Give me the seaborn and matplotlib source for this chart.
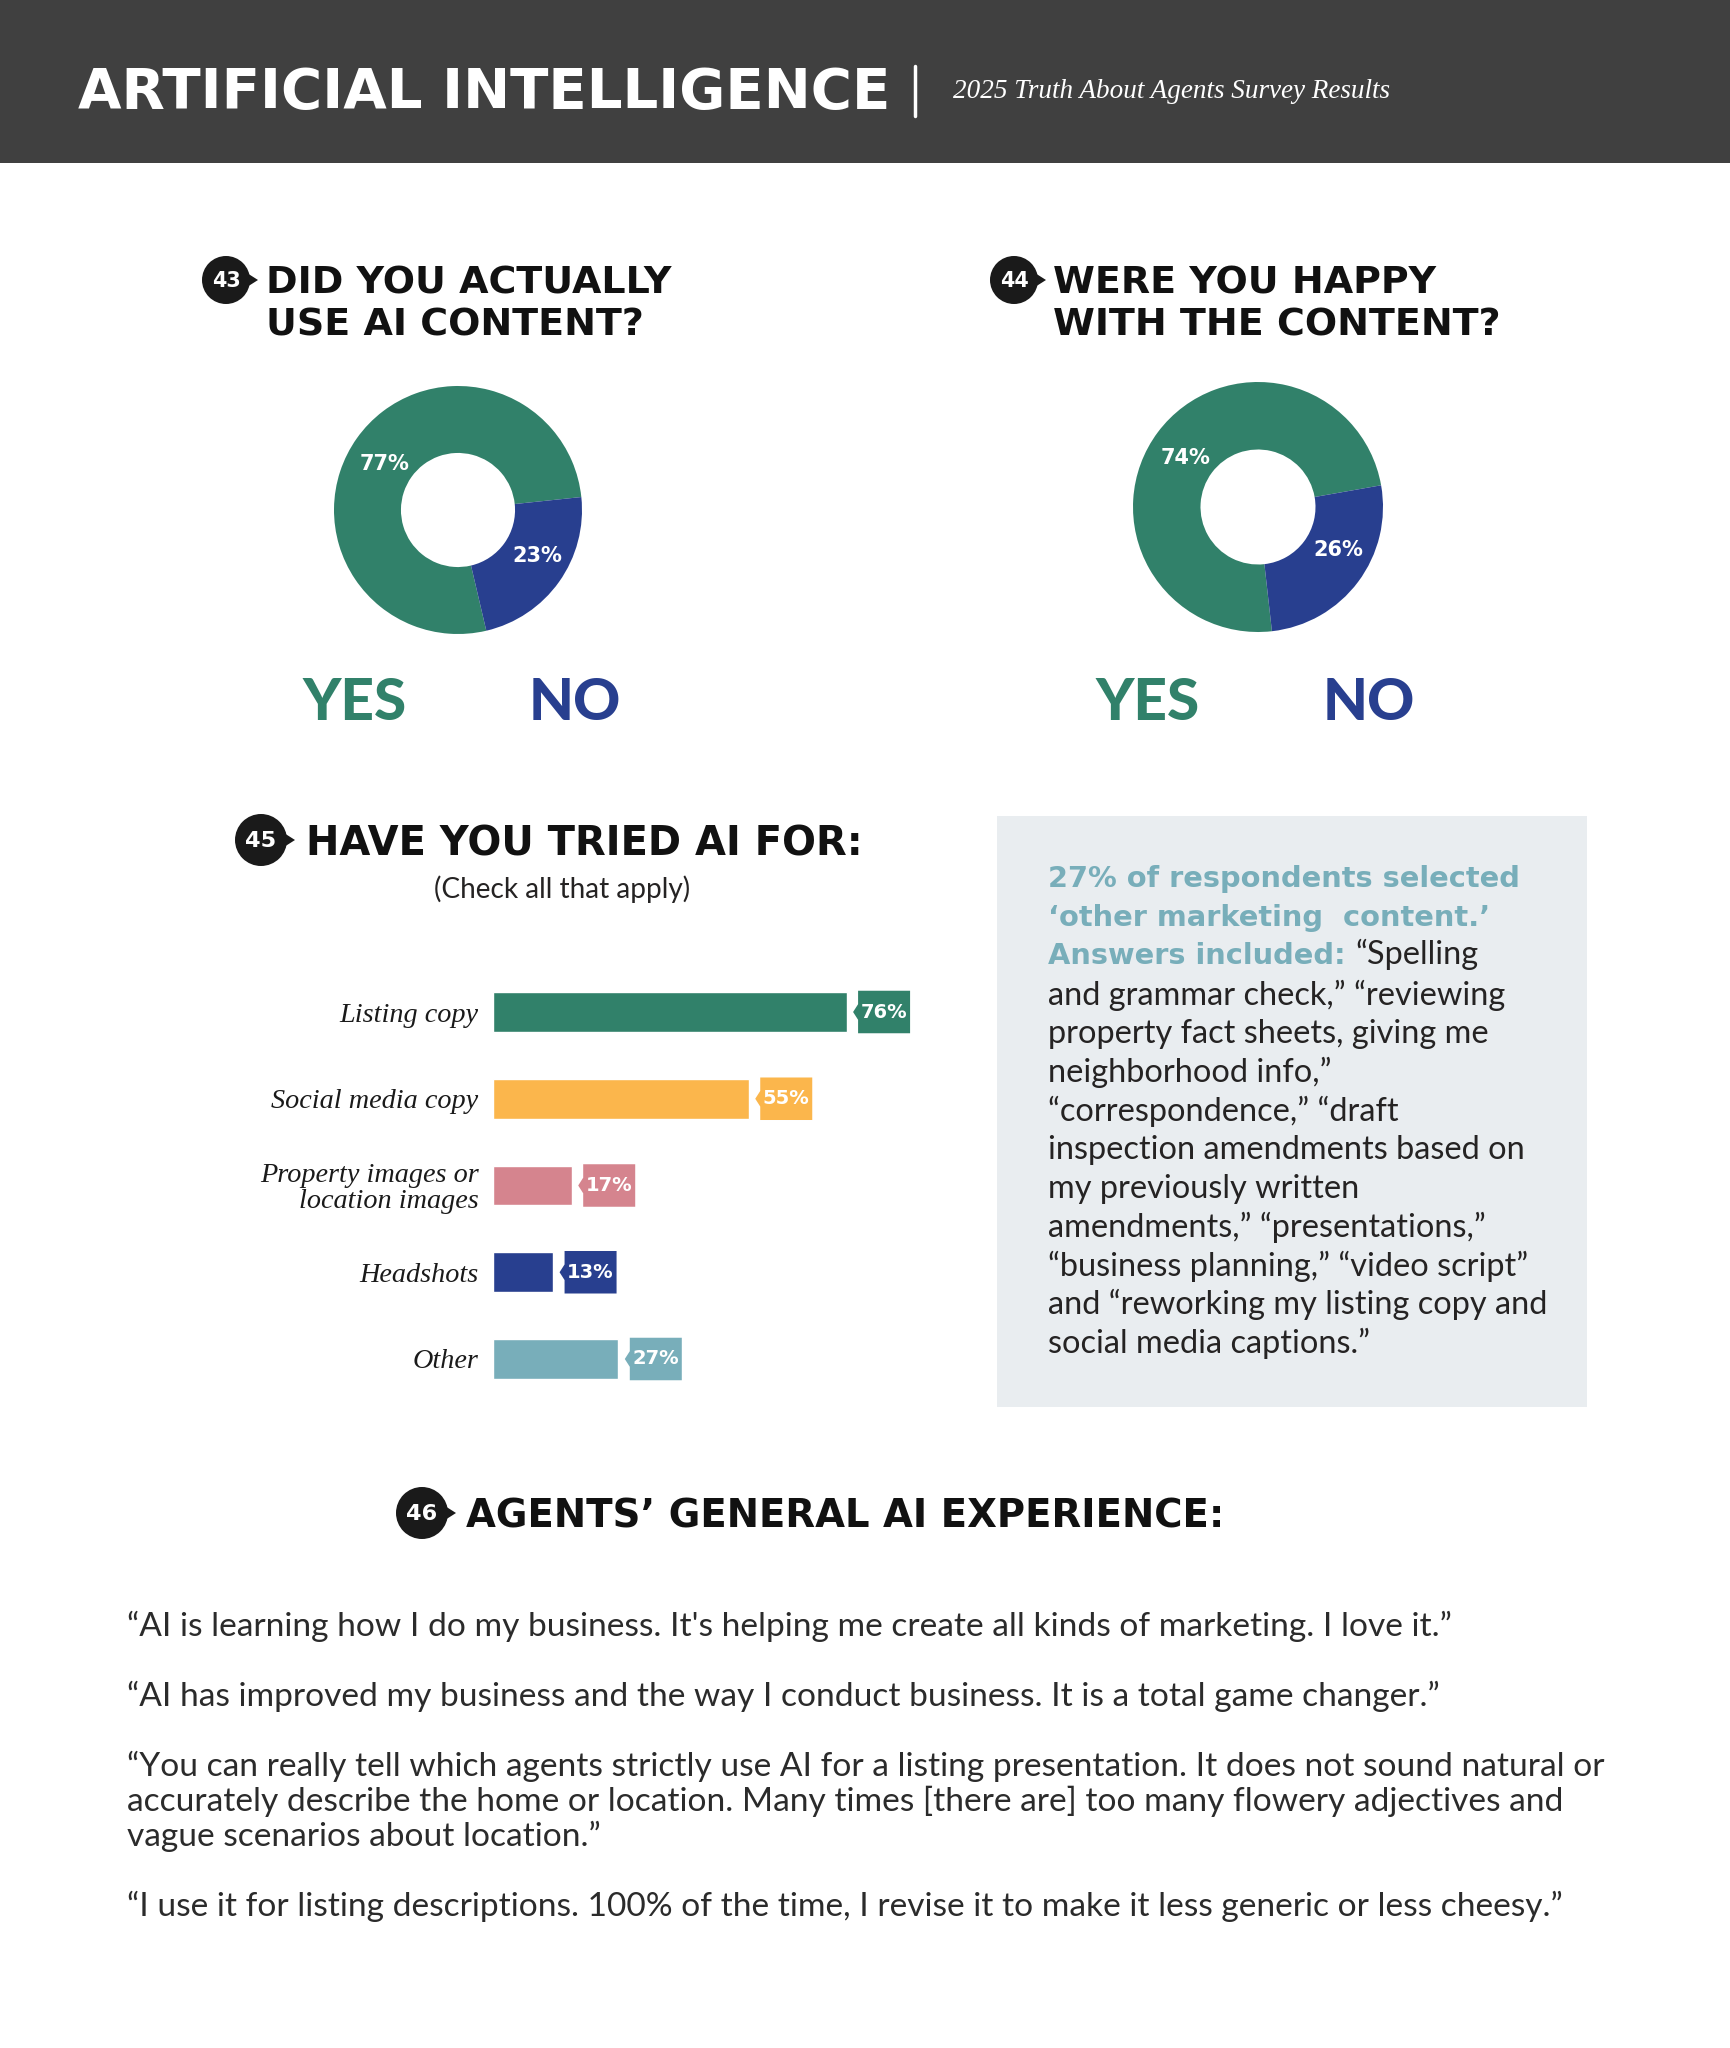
import numpy as np
import pandas as pd
import seaborn as sns
import matplotlib.pyplot as plt
from matplotlib.patches import Rectangle, Circle, Polygon

# ---- data ----
q43_labels = ["Yes", "No"]
q43_values = [77, 23]
q44_labels = ["Yes", "No"]
q44_values = [74, 26]

q45_categories = ["Listing copy", "Social media copy", "Property images or\nlocation images",
                  "Headshots", "Other"]
q45_values = [76, 55, 17, 13, 27]

box_lines = [
    "and grammar check,\u201d \u201creviewing",
    "property fact sheets, giving me",
    "neighborhood info,\u201d",
    "\u201ccorrespondence,\u201d \u201cdraft",
    "inspection amendments based on",
    "my previously written",
    "amendments,\u201d \u201cpresentations,\u201d",
    "\u201cbusiness planning,\u201d \u201cvideo script\u201d",
    "and \u201creworking my listing copy and",
    "social media captions.\u201d",
]
quotes = [
    ["\u201cAI is learning how I do my business. It's helping me create all kinds of marketing. I love it.\u201d"],
    ["\u201cAI has improved my business and the way I conduct business. It is a total game changer.\u201d"],
    ["\u201cYou can really tell which agents strictly use AI for a listing presentation. It does not sound natural or",
     "accurately describe the home or location. Many times [there are] too many flowery adjectives and",
     "vague scenarios about location.\u201d"],
    ["\u201cI use it for listing descriptions. 100% of the time, I revise it to make it less generic or less cheesy.\u201d"],
]

GREEN = "#31816a"
BLUE = "#283f8f"
YELLOW = "#fbb64c"
PINK = "#d5848e"
TEAL = "#78aeba"
DARK = "#252323"
bar_colors = [GREEN, YELLOW, PINK, BLUE, TEAL]

W, H = 1731, 2048
sns.set_theme(style="white")
plt.rcParams["font.family"] = ["Lato", "DejaVu Sans"]

fig = plt.figure(figsize=(W / 100, H / 100), dpi=100)
fig.patch.set_facecolor("white")

# full-page overlay in pixel coordinates
bg = fig.add_axes([0, 0, 1, 1])
bg.set_xlim(0, W)
bg.set_ylim(H, 0)
bg.axis("off")


def px_axes(x0, y0, w, h):
    return fig.add_axes([x0 / W, 1 - (y0 + h) / H, w / W, h / H])


# header
bg.add_patch(Rectangle((0, 0), W, 163, color="#404040", lw=0))
bg.text(78, 93, "ARTIFICIAL INTELLIGENCE", color="white", fontsize=40.5,
        fontweight="bold", family="DejaVu Sans", va="center", ha="left")
bg.plot([915, 915], [66, 116], color="white", lw=2.5)
bg.text(953, 92, "2025 Truth About Agents Survey Results", color="white", fontsize=19.5,
        family="Liberation Serif", style="italic", va="center", ha="left")


def badge(x, y, r, num):
    bg.add_patch(Polygon([(x + r - 3, y - 7), (x + r + 8, y), (x + r - 3, y + 7)],
                         closed=True, color="#1a1a1a", lw=0))
    bg.add_patch(Circle((x, y), r, color="#1a1a1a", lw=0))
    bg.text(x, y + 1, num, color="white", fontsize=r * 0.62, fontweight="bold",
            family="DejaVu Sans", ha="center", va="center")


HEAD = dict(family="DejaVu Sans", fontweight="bold", color="#111111", va="center", ha="left")

badge(226, 280, 24, "43")
bg.text(266, 283, "DID YOU ACTUALLY", fontsize=27.4, **HEAD)
bg.text(266, 326, "USE AI CONTENT?", fontsize=27.4, **HEAD)
badge(1014, 280, 24, "44")
bg.text(1053, 283, "WERE YOU HAPPY", fontsize=27.4, **HEAD)
bg.text(1053, 326, "WITH THE CONTENT?", fontsize=27.4, **HEAD)


def donut(cx, cy, r, values, start, label_pos):
    ax = px_axes(cx - r, cy - r, 2 * r, 2 * r)
    _, _, autotexts = ax.pie(values, colors=[GREEN, BLUE], startangle=start, counterclock=True,
                             radius=1, wedgeprops=dict(width=0.54, linewidth=0),
                             autopct=lambda p: f"{p:.0f}%", pctdistance=0.73,
                             textprops=dict(color="white", fontsize=15, fontweight="bold",
                                            family="DejaVu Sans"))
    # nudge the percentage labels to where the reference prints them
    for t, (ang, rad) in zip(autotexts, label_pos):
        a = np.deg2rad(ang)
        t.set_position((rad * np.cos(a), rad * np.sin(a)))
    ax.set_xlim(-1, 1)
    ax.set_ylim(-1, 1)
    ax.set_aspect("equal")
    ax.axis("off")


donut(458, 510, 124, q43_values, 6, [(148, 0.70), (-30, 0.74)])
donut(1258, 507, 125, q44_values, 10, [(146, 0.70), (-28, 0.73)])

YN = dict(fontsize=42, fontweight="black", ha="center", va="center")
bg.text(355, 703, "YES", color=GREEN, **YN)
bg.text(575, 703, "NO", color=BLUE, **YN)
bg.text(1148, 703, "YES", color=GREEN, **YN)
bg.text(1369, 703, "NO", color=BLUE, **YN)

# question 45
badge(261, 840, 26, "45")
bg.text(306, 845, "HAVE YOU TRIED AI FOR:", fontsize=28.8, **HEAD)
bg.text(562, 889, "(Check all that apply)", fontsize=20.2, color=DARK, ha="center", va="center")

bar_left, px_per_pct = 492.5, 4.659
row_h = 86.75
axb = px_axes(bar_left, 1012 - row_h / 2, 100 * px_per_pct, 5 * row_h)
df45 = pd.DataFrame({"category": q45_categories, "value": q45_values})
sns.barplot(data=df45, x="value", y="category", hue="category", palette=bar_colors,
            orient="h", width=0.46, legend=False, ax=axb, saturation=1)
axb.set_xlim(0, 100)
axb.set_ylim(4.5, -0.5)
axb.set_facecolor("none")
for s in axb.spines.values():
    s.set_visible(False)
axb.set_xticks([])
axb.set_xlabel("")
axb.set_ylabel("")
axb.tick_params(axis="y", length=0, pad=10)
for lab in axb.get_yticklabels():
    lab.set_family("Liberation Serif")
    lab.set_style("italic")
    lab.set_fontsize(20.3)
    lab.set_color("#1a1a1a")
    lab.set_linespacing(1.02)

# value tags
gap = 11.5 / px_per_pct
tag_w = 52 / px_per_pct
tag_h = 0.49
notch = 5 / px_per_pct
for i, (v, c) in enumerate(zip(q45_values, bar_colors)):
    L = v + gap
    pts = [(L, i - tag_h / 2), (L + tag_w, i - tag_h / 2), (L + tag_w, i + tag_h / 2),
           (L, i + tag_h / 2), (L, i + 0.09), (L - notch, i), (L, i - 0.09)]
    axb.add_patch(Polygon(pts, closed=True, color=c, lw=0))
    axb.text(L + tag_w / 2, i, f"{v}%", color="white", fontsize=14, fontweight="bold",
             family="DejaVu Sans", ha="center", va="center")

# comment box
bg.add_patch(Rectangle((997, 816), 590, 591, color="#e9edf0", lw=0))
bx, by, lh = 1048, 879, 38.7
BOLD = dict(color=TEAL, fontsize=20.8, fontweight="bold", family="DejaVu Sans",
            va="center", ha="left")
bg.text(bx, by, "27% of respondents selected", **BOLD)
bg.text(bx, by + lh, "\u2018other marketing  content.\u2019", **BOLD)
t3 = bg.text(bx, by + 2 * lh, "Answers included: ", **BOLD)
bg.annotate("\u201cSpelling", xy=(1, 0), xycoords=t3, ha="left", va="bottom",
            fontsize=23.4, color=DARK)
for k, line in enumerate(box_lines):
    bg.text(bx, by + (k + 3) * lh, line, fontsize=23.4, color=DARK, va="center", ha="left")

# question 46
badge(422, 1513, 26, "46")
bg.text(466, 1517, "AGENTS\u2019 GENERAL AI EXPERIENCE:", fontsize=27.8, **HEAD)

qy = 1626
for para in quotes:
    for line in para:
        bg.text(127, qy, line, fontsize=24.1, color="#2b2b2b", va="center", ha="left")
        qy += 35
    qy += 35

fig.savefig("out.png", dpi=100)
